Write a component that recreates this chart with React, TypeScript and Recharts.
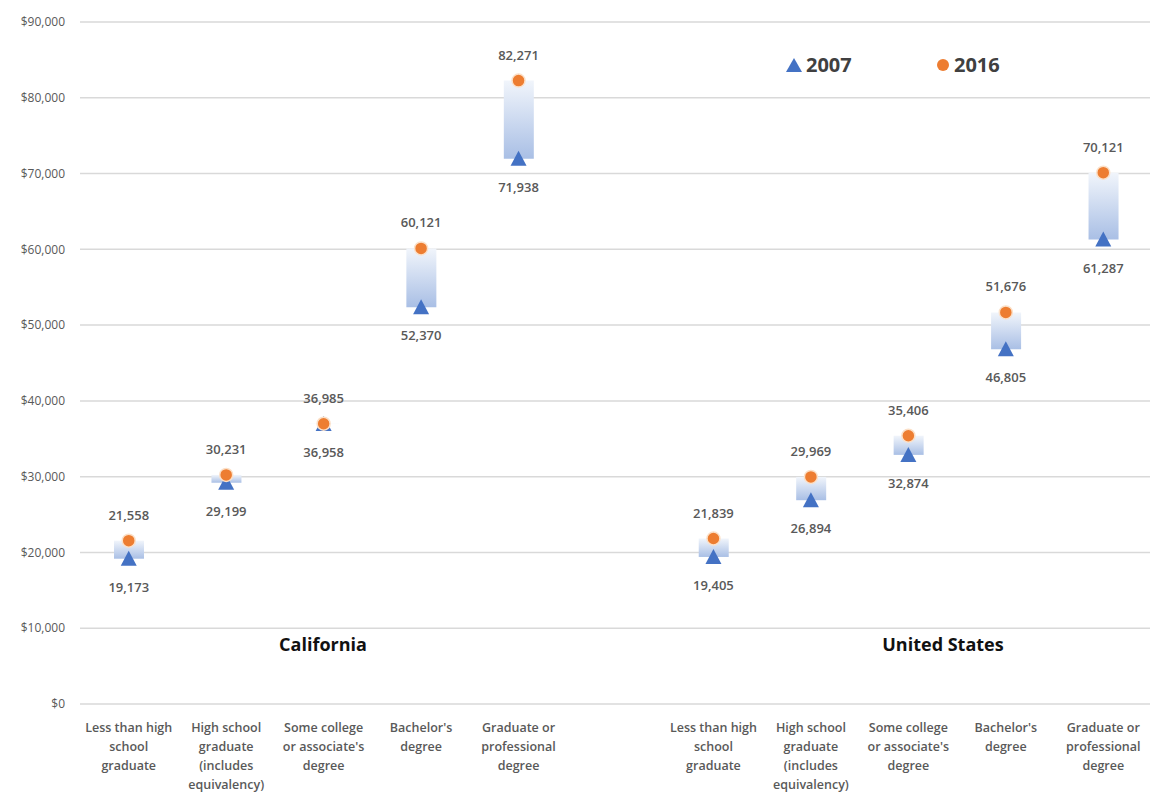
import { Bar, CartesianGrid, ComposedChart, Legend, LabelList, Line, XAxis, YAxis } from 'recharts';

const categoryIds = ['ca0', 'ca1', 'ca2', 'ca3', 'ca4', 'gap', 'us0', 'us1', 'us2', 'us3', 'us4'];
const categoryLabels = [
  ['Less than high', 'school', 'graduate'],
  ['High school', 'graduate', '(includes', 'equivalency)'],
  ['Some college', "or associate's", 'degree'],
  ["Bachelor's", 'degree'],
  ['Graduate or', 'professional', 'degree'],
  [],
  ['Less than high', 'school', 'graduate'],
  ['High school', 'graduate', '(includes', 'equivalency)'],
  ['Some college', "or associate's", 'degree'],
  ["Bachelor's", 'degree'],
  ['Graduate or', 'professional', 'degree'],
];
const earnings2007 = [19173, 29199, 36958, 52370, 71938, null, 19405, 26894, 32874, 46805, 61287];
const earnings2016 = [21558, 30231, 36985, 60121, 82271, null, 21839, 29969, 35406, 51676, 70121];
const yTicks = [0, 10000, 20000, 30000, 40000, 50000, 60000, 70000, 80000, 90000];
const groupLabels = [
  { text: 'California', x: 315 },
  { text: 'United States', x: 935 },
];

const FONT = '"Open Sans", sans-serif';
const GRAY = '#595959';
const BLUE = '#4472C4';
const ORANGE = '#ED7D31';

const data = categoryIds.map((id, i) => ({
  id,
  y2007: earnings2007[i],
  y2016: earnings2016[i],
  range: earnings2007[i] == null ? null : [earnings2007[i], earnings2016[i]],
}));

const fmt = (v: number) => v.toLocaleString('en-US');

const Triangle = ({ cx, cy }: any) => {
  if (cx == null || cy == null) return null;
  return <polygon points={`${cx},${cy - 8} ${cx - 8},${cy + 7} ${cx + 8},${cy + 7}`} fill={BLUE} />;
};

const Dot = ({ cx, cy }: any) => {
  if (cx == null || cy == null) return null;
  return <circle cx={cx} cy={cy} r={6.5} fill={ORANGE} stroke="#fbe0c8" strokeWidth={1.5} />;
};

const valueLabel = (dy: number) => (props: any) => {
  const { x, y, value } = props;
  if (value == null) return null;
  return (
    <text x={x} y={y + dy} textAnchor="middle" dominantBaseline="central" fontSize={13} fontWeight={600} fill={GRAY} fontFamily={FONT}>
      {fmt(value)}
    </text>
  );
};

const CategoryTick = ({ x, y, payload }: any) => {
  const lines = categoryLabels[categoryIds.indexOf(payload.value)] || [];
  return (
    <g>
      {lines.map((line, i) => (
        <text key={i} x={x} y={y + 21 + i * 19} textAnchor="middle" dominantBaseline="central" fontSize={12.5} fontWeight={600} fill={GRAY} fontFamily={FONT}>
          {line}
        </text>
      ))}
    </g>
  );
};

const LegendContent = () => (
  <div style={{ display: 'flex', fontFamily: FONT, fontWeight: 700, fontSize: 20, color: '#404040' }}>
    <div style={{ display: 'flex', alignItems: 'center', width: 150 }}>
      <svg width={18} height={16}>
        <polygon points="9,1 1,15 17,15" fill={BLUE} />
      </svg>
      <span style={{ marginLeft: 3 }}>2007</span>
    </div>
    <div style={{ display: 'flex', alignItems: 'center' }}>
      <svg width={16} height={16}>
        <circle cx={8} cy={8} r={6} fill={ORANGE} />
      </svg>
      <span style={{ marginLeft: 3 }}>2016</span>
    </div>
  </div>
);

export default function App() {
  return (
    <div style={{ position: 'relative', width: 1150, height: 789 }}>
      <ComposedChart width={1150} height={789} data={data} margin={{ top: 14, right: 6, bottom: 0, left: 0 }}>
        <defs>
          <linearGradient id="upBar" x1="0" y1="0" x2="0" y2="1">
            <stop offset="0%" stopColor="#f1f5fb" />
            <stop offset="100%" stopColor="#a9bfe5" />
          </linearGradient>
        </defs>
        <CartesianGrid vertical={false} stroke="#d9d9d9" strokeWidth={1.5} />
        <XAxis dataKey="id" tick={<CategoryTick />} tickLine={false} axisLine={false} tickSize={0} height={93} interval={0} />
        <YAxis
          domain={[0, 90000]}
          ticks={yTicks}
          tickFormatter={(v: number) => `$${fmt(v)}`}
          tick={{ fill: GRAY, fontSize: 12, fontFamily: FONT }}
          tickLine={false}
          axisLine={false}
          tickMargin={9}
          width={72}
        />
        <Legend
          content={<LegendContent />}
          layout="horizontal"
          verticalAlign="middle"
          align="center"
          wrapperStyle={{ top: 43, left: 777, width: 300 }}
        />
        <Bar dataKey="range" barSize={30} fill="url(#upBar)" isAnimationActive={false} legendType="none" />
        <Line dataKey="y2007" stroke="none" dot={<Triangle />} activeDot={false} isAnimationActive={false}>
          <LabelList dataKey="y2007" content={valueLabel(28)} />
        </Line>
        <Line dataKey="y2016" stroke="none" dot={<Dot />} activeDot={false} isAnimationActive={false}>
          <LabelList dataKey="y2016" content={valueLabel(-26)} />
        </Line>
      </ComposedChart>
      {groupLabels.map((g) => (
        <div
          key={g.text}
          style={{
            position: 'absolute',
            left: g.x - 100,
            top: 624,
            width: 200,
            textAlign: 'center',
            fontFamily: FONT,
            fontWeight: 700,
            fontSize: 18,
            color: '#111',
          }}
        >
          {g.text}
        </div>
      ))}
    </div>
  );
}
